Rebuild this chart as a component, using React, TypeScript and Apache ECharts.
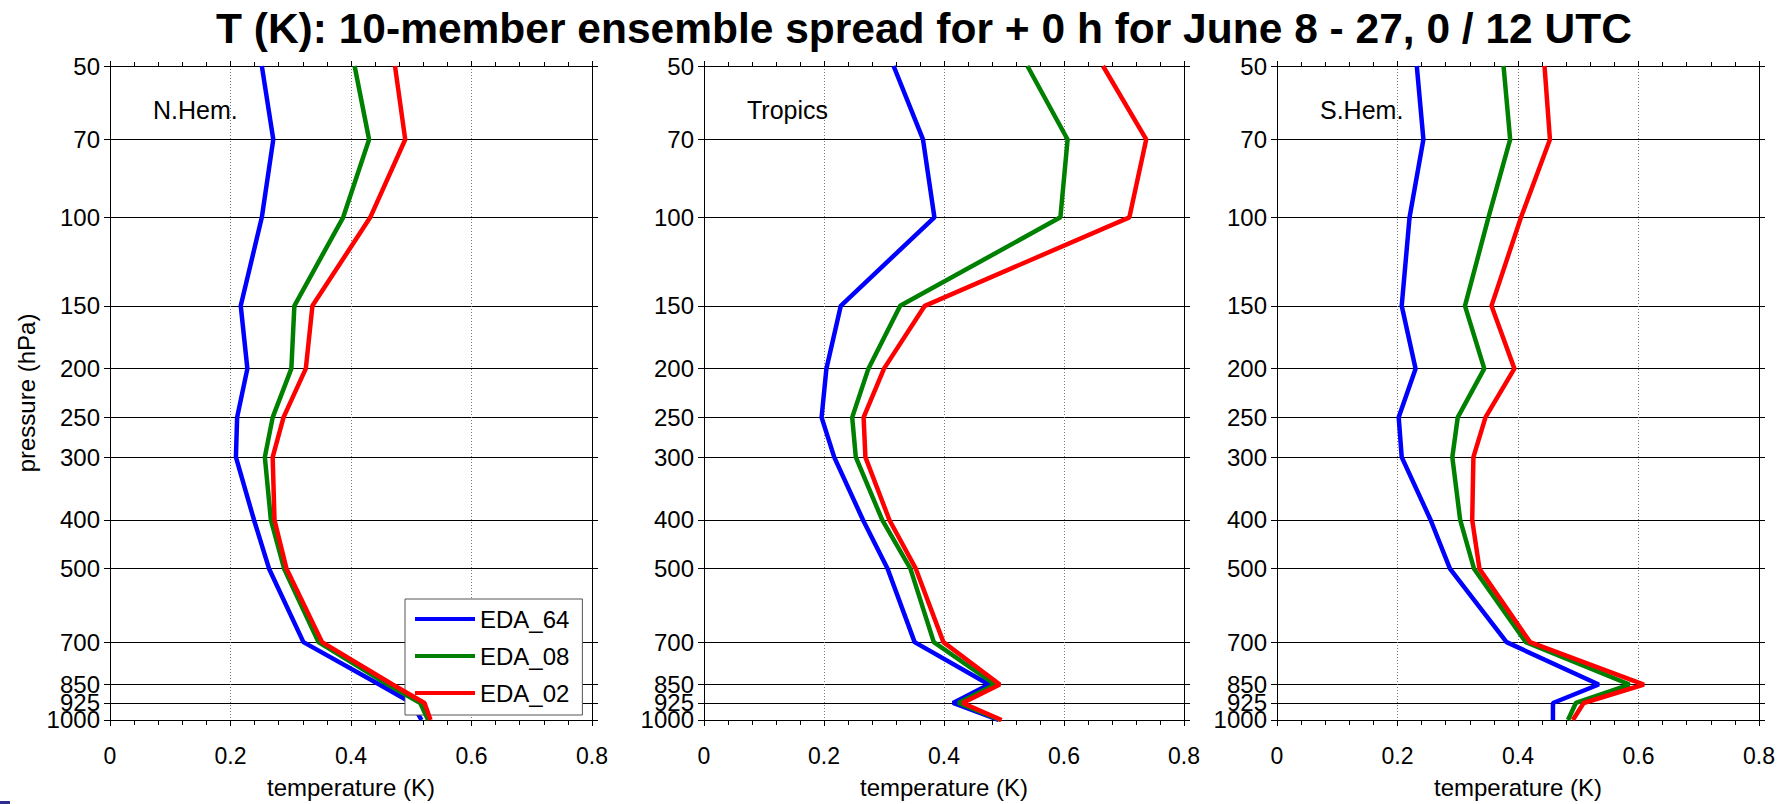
import React, { useEffect, useRef } from 'react';
import * as echarts from 'echarts';

// ---------- data ----------
const pressureLevels = [50, 70, 100, 150, 200, 250, 300, 400, 500, 700, 850, 925, 1000];
const regionNames = ['N.Hem.', 'Tropics', 'S.Hem.'];
const seriesNames = ['EDA_64', 'EDA_08', 'EDA_02'];
const seriesColors = ['#0000ff', '#008000', '#ff0000'];

const nhemEDA64 = [0.252, 0.271, 0.252, 0.217, 0.228, 0.211, 0.209, 0.239, 0.264, 0.321, 0.447, 0.501, 0.517];
const nhemEDA08 = [0.406, 0.430, 0.387, 0.306, 0.301, 0.270, 0.257, 0.267, 0.289, 0.346, 0.461, 0.515, 0.528];
const nhemEDA02 = [0.473, 0.490, 0.432, 0.336, 0.325, 0.288, 0.270, 0.273, 0.293, 0.352, 0.469, 0.522, 0.532];

const tropEDA64 = [0.316, 0.365, 0.384, 0.228, 0.204, 0.196, 0.217, 0.265, 0.306, 0.351, 0.475, 0.415, 0.491];
const tropEDA08 = [0.539, 0.606, 0.594, 0.327, 0.274, 0.247, 0.253, 0.297, 0.344, 0.383, 0.485, 0.424, 0.494];
const tropEDA02 = [0.665, 0.737, 0.709, 0.368, 0.300, 0.266, 0.269, 0.309, 0.353, 0.399, 0.493, 0.431, 0.496];

const shemEDA64 = [0.232, 0.243, 0.220, 0.207, 0.230, 0.202, 0.207, 0.255, 0.287, 0.381, 0.534, 0.458, 0.458];
const shemEDA08 = [0.376, 0.387, 0.351, 0.312, 0.344, 0.300, 0.291, 0.304, 0.327, 0.413, 0.585, 0.496, 0.483];
const shemEDA02 = [0.444, 0.453, 0.405, 0.356, 0.394, 0.346, 0.326, 0.324, 0.336, 0.420, 0.609, 0.509, 0.491];

const panelData = [
  [nhemEDA64, nhemEDA08, nhemEDA02],
  [tropEDA64, tropEDA08, tropEDA02],
  [shemEDA64, shemEDA08, shemEDA02],
];

const titleText = 'T (K): 10-member ensemble spread for + 0 h for June 8 - 27, 0 / 12 UTC';
const xAxisName = 'temperature (K)';
const yAxisName = 'pressure (hPa)';

// tick labels are split over two stacked axes so the tightly packed
// 850 / 925 / 1000 labels are all kept (as in the reference)
const pressureLabelsMain = pressureLevels.filter((p) => p !== 925);
const pressureLabelsExtra = pressureLevels.filter((p) => p === 925);

// ---------- layout ----------
const FONT = "'Liberation Sans', Arial, Helvetica, sans-serif";
const gridLefts = [110, 704, 1277];
const gridWidths = [482, 480, 482];
const gridTop = 66;
const gridHeight = 659;
const pMin = 50;
const pMax = 1000.001; // tiny headroom so the 1000 hPa tick survives rounding

function buildOption() {
  const grid: any[] = [];
  const xAxis: any[] = [];
  const yAxis: any[] = [];
  const series: any[] = [];
  const titles: any[] = [
    {
      text: titleText,
      left: 216,
      top: 7,
      padding: 0,
      textStyle: { fontSize: 42.5, fontWeight: 'bold', fontFamily: FONT, color: '#000' },
    },
  ];

  const axisLineStyle = { color: '#000', width: 1 };
  const yLabelStyle = {
    show: true,
    margin: 10,
    fontSize: 24,
    lineHeight: 12,
    fontFamily: FONT,
    color: '#000',
    padding: [5, 0, 0, 0],
    hideOverlap: false,
    formatter: (v: number) => String(Math.round(v)),
  };

  regionNames.forEach((region, i) => {
    grid.push({ left: gridLefts[i], width: gridWidths[i], top: gridTop, height: gridHeight, containLabel: false });

    titles.push({
      text: region,
      left: gridLefts[i] + 43,
      top: 97,
      padding: 0,
      textStyle: { fontSize: 25, fontWeight: 'normal', fontFamily: FONT, color: '#000' },
    });

    // bottom x axis
    xAxis.push({
      gridIndex: i,
      type: 'value',
      position: 'bottom',
      min: 0,
      max: 0.8,
      interval: 0.2,
      axisLine: { show: true, onZero: false, lineStyle: axisLineStyle },
      axisTick: { show: true, inside: false, length: 6, lineStyle: axisLineStyle },
      minorTick: { show: true, splitNumber: 5, length: 5, lineStyle: axisLineStyle },
      axisLabel: {
        show: true,
        margin: 24,
        fontSize: 23,
        fontFamily: FONT,
        color: '#000',
        showMinLabel: true,
        showMaxLabel: true,
        formatter: (v: number) => String(v),
      },
      splitLine: {
        show: true,
        showMinLine: false,
        showMaxLine: false,
        lineStyle: { color: '#777', width: 1, type: [1, 2] },
      },
      name: xAxisName,
      nameLocation: 'middle',
      nameGap: 55,
      nameTextStyle: { fontSize: 24, fontFamily: FONT, color: '#000' },
    });
    // top x axis (ticks only)
    xAxis.push({
      gridIndex: i,
      type: 'value',
      position: 'top',
      min: 0,
      max: 0.8,
      interval: 0.2,
      axisLine: { show: true, onZero: false, lineStyle: axisLineStyle },
      axisTick: { show: true, inside: false, length: 5, lineStyle: axisLineStyle },
      minorTick: { show: true, splitNumber: 5, length: 4, lineStyle: axisLineStyle },
      axisLabel: { show: false },
      splitLine: { show: false },
    });

    // left pressure axis (index 3i)
    yAxis.push({
      gridIndex: i,
      type: 'log',
      logBase: 10,
      position: 'left',
      inverse: true,
      min: pMin,
      max: pMax,
      axisLine: { show: true, onZero: false, lineStyle: axisLineStyle },
      axisTick: { show: true, inside: false, length: 6, customValues: pressureLevels, lineStyle: axisLineStyle },
      minorTick: { show: false },
      axisLabel: { ...yLabelStyle, customValues: pressureLabelsMain, showMinLabel: true, showMaxLabel: true },
      splitLine: { show: true, lineStyle: { color: '#000', width: 1, type: 'solid' } },
      minorSplitLine: { show: false },
      name: i === 0 ? yAxisName : '',
      nameLocation: 'middle',
      nameGap: 72,
      nameTextStyle: { fontSize: 24, fontFamily: FONT, color: '#000' },
    });
    // right pressure axis (ticks only) (index 3i+1)
    yAxis.push({
      gridIndex: i,
      type: 'log',
      logBase: 10,
      position: 'right',
      inverse: true,
      min: pMin,
      max: pMax,
      axisLine: { show: true, onZero: false, lineStyle: axisLineStyle },
      axisTick: { show: true, inside: false, length: 6, customValues: pressureLevels, lineStyle: axisLineStyle },
      minorTick: { show: false },
      axisLabel: { show: false },
      splitLine: { show: false },
    });
    // overlay left axis carrying the remaining tick label (index 3i+2)
    yAxis.push({
      gridIndex: i,
      type: 'log',
      logBase: 10,
      position: 'left',
      offset: 0,
      inverse: true,
      min: pMin,
      max: pMax,
      axisLine: { show: false },
      axisTick: { show: false },
      minorTick: { show: false },
      axisLabel: { ...yLabelStyle, customValues: pressureLabelsExtra },
      splitLine: { show: false },
    });

    seriesNames.forEach((name, j) => {
      series.push({
        type: 'line',
        name,
        xAxisIndex: 2 * i,
        yAxisIndex: 3 * i,
        data: panelData[i][j].map((v, k) => [v, pressureLevels[k]]),
        symbol: 'none',
        showSymbol: false,
        lineStyle: { width: 4.5, color: seriesColors[j] },
        itemStyle: { color: seriesColors[j] },
        z: 3 + j,
      });
    });
  });

  return {
    animation: false,
    backgroundColor: '#fff',
    textStyle: { fontFamily: FONT },
    title: titles,
    grid,
    xAxis,
    yAxis,
    series,
    legend: {
      data: seriesNames,
      orient: 'vertical',
      left: 405,
      top: 599,
      padding: [8, 13, 10, 10],
      itemGap: 13,
      itemWidth: 60,
      itemHeight: 4,
      icon: 'rect',
      backgroundColor: '#fff',
      borderColor: '#555',
      borderWidth: 1,
      borderRadius: 0,
      selectedMode: false,
      textStyle: { fontSize: 24, lineHeight: 24, fontFamily: FONT, color: '#000' },
    },
    graphic: [
      {
        type: 'rect',
        shape: { x: 0, y: 801, width: 10, height: 3 },
        style: { fill: '#2e2e8f' },
        silent: true,
      },
    ],
  };
}

export default function App() {
  const ref = useRef<HTMLDivElement>(null);
  useEffect(() => {
    if (!ref.current) return;
    const chart = echarts.init(ref.current, undefined, { renderer: 'svg' });
    chart.setOption(buildOption() as any);
    return () => chart.dispose();
  }, []);
  return (
    <div
      ref={ref}
      style={{ position: 'fixed', left: 0, top: 0, width: '1791px', height: '804px', background: '#fff' }}
    />
  );
}
